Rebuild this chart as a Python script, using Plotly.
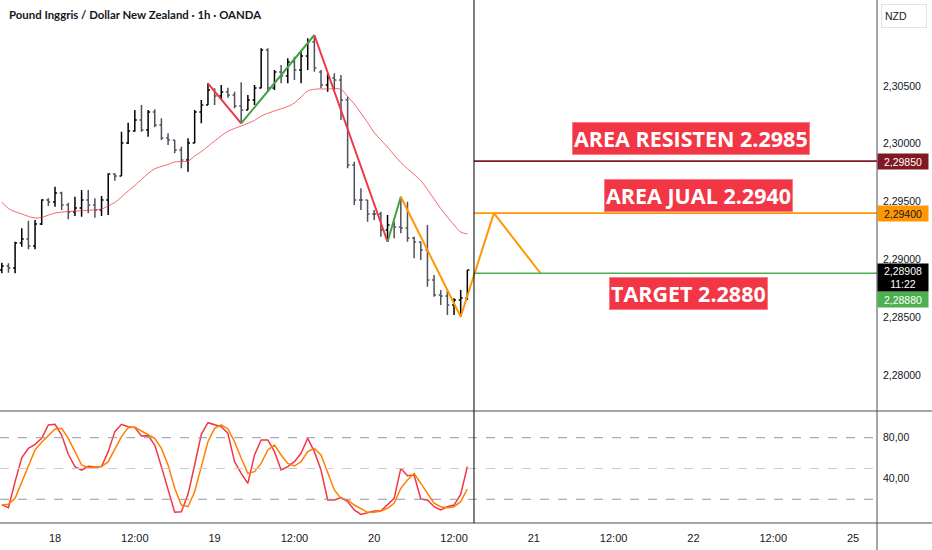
import plotly.graph_objects as go

# data (x = hours from 18 00:00, weekend gap removed)
hours = list(range(-8, 63))

opens = [2.28908, 2.28943, 2.28926, 2.29142, 2.29176, 2.29116, 2.29306, 2.29514,
         2.29497, 2.29574, 2.29471, 2.29410, 2.29445, 2.29514, 2.29471, 2.29427, 2.29514, 2.29739,
         2.29721, 2.30007, 2.30111, 2.30206, 2.30119, 2.30275, 2.30163, 2.30050, 2.30033, 2.29946,
         2.29860, 2.30007, 2.30275, 2.30336, 2.30465, 2.30414, 2.30448, 2.30422, 2.30327, 2.30292,
         2.30379, 2.30483, 2.30811, 2.30483, 2.30621, 2.30587, 2.30708, 2.30638, 2.30760, 2.30881,
         2.30621, 2.30509, 2.30569, 2.30552, 2.30379, 2.29817, 2.29514, 2.29514, 2.29393, 2.29393,
         2.29254, 2.29298, 2.29280, 2.29272, 2.29185, 2.29151, 2.29081, 2.28822, 2.28692, 2.28683,
         2.28606, 2.28649, 2.28666]
highs = [2.28971, 2.28966, 2.29153, 2.29269, 2.29335, 2.29341, 2.29520, 2.29529,
         2.29629, 2.29586, 2.29490, 2.29542, 2.29600, 2.29600, 2.29529, 2.29548, 2.29745, 2.29745,
         2.30105, 2.30183, 2.30292, 2.30336, 2.30292, 2.30298, 2.30221, 2.30091, 2.30033, 2.29975,
         2.30048, 2.30292, 2.30379, 2.30523, 2.30480, 2.30509, 2.30485, 2.30451, 2.30532, 2.30422,
         2.30509, 2.30826, 2.30826, 2.30638, 2.30682, 2.30740, 2.30753, 2.30811, 2.30913, 2.30941,
         2.30638, 2.30610, 2.30610, 2.30595, 2.30407, 2.29845, 2.29615, 2.29514, 2.29427, 2.29413,
         2.29384, 2.29326, 2.29542, 2.29499, 2.29196, 2.29153, 2.29298, 2.28865, 2.28735, 2.28735,
         2.28664, 2.28735, 2.28908]
lows = [2.28880, 2.28885, 2.28880, 2.29110, 2.29087, 2.29087, 2.29298, 2.29462,
        2.29456, 2.29427, 2.29347, 2.29375, 2.29369, 2.29399, 2.29361, 2.29375, 2.29384, 2.29681,
        2.29721, 2.29998, 2.30105, 2.30105, 2.30061, 2.30143, 2.30033, 2.29990, 2.29918, 2.29788,
        2.29759, 2.30004, 2.30177, 2.30336, 2.30336, 2.30379, 2.30399, 2.30307, 2.30177, 2.30292,
        2.30336, 2.30480, 2.30451, 2.30465, 2.30523, 2.30523, 2.30552, 2.30523, 2.30638, 2.30624,
        2.30480, 2.30451, 2.30465, 2.30206, 2.29788, 2.29471, 2.29427, 2.29326, 2.29341, 2.29196,
        2.29153, 2.29183, 2.29226, 2.29153, 2.29010, 2.28995, 2.28764, 2.28677, 2.28606, 2.28519,
        2.28519, 2.28504, 2.28649]
closes = [2.28943, 2.28926, 2.29142, 2.29176, 2.29116, 2.29306, 2.29514, 2.29497,
          2.29574, 2.29471, 2.29410, 2.29445, 2.29514, 2.29471, 2.29427, 2.29514, 2.29739, 2.29721,
          2.30007, 2.30111, 2.30206, 2.30119, 2.30275, 2.30163, 2.30050, 2.30033, 2.29946, 2.29860,
          2.30007, 2.30275, 2.30336, 2.30465, 2.30414, 2.30448, 2.30422, 2.30327, 2.30292, 2.30379,
          2.30483, 2.30811, 2.30483, 2.30621, 2.30587, 2.30708, 2.30638, 2.30760, 2.30881, 2.30656,
          2.30509, 2.30569, 2.30552, 2.30379, 2.29817, 2.29514, 2.29514, 2.29393, 2.29393, 2.29254,
          2.29298, 2.29280, 2.29272, 2.29185, 2.29151, 2.29081, 2.28822, 2.28692, 2.28683, 2.28606,
          2.28649, 2.28666, 2.28908]

ma_hours = [-8, -7, -5, -3, -2, 0, 2, 4, 6, 7, 8, 9, 10, 11, 12, 13, 14, 15, 16, 17, 18, 20,
            21, 22, 24, 26, 28, 30, 31, 33, 35, 36, 37, 38, 39, 41, 43, 44, 45, 46, 47, 48,
            50, 51, 52, 54, 55, 56, 57, 58, 59, 60, 61, 62]
ma_values = [2.29497, 2.29440, 2.29393, 2.29358, 2.29364, 2.29401, 2.29414, 2.29421, 2.29429,
             2.29436, 2.29462, 2.29492, 2.29540, 2.29592, 2.29639, 2.29691, 2.29743, 2.29784,
             2.29804, 2.29821, 2.29843, 2.29851, 2.29894, 2.29933, 2.30024, 2.30108, 2.30154,
             2.30202, 2.30240, 2.30284, 2.30323, 2.30353, 2.30405, 2.30457, 2.30472, 2.30474,
             2.30471, 2.30409, 2.30344, 2.30266, 2.30184, 2.30098, 2.29972, 2.29903, 2.29838,
             2.29734, 2.29682, 2.29605, 2.29522, 2.29439, 2.29367, 2.29298, 2.29237, 2.29220]

stoch_k = [14.8, 11.8, 37.2, 60.5, 69.6, 73.5, 79.4, 92.4,
           93.0, 82.6, 63.8, 51.8, 48.5, 52.1, 51.5, 51.8, 66.4, 85.9,
           93.0, 90.7, 89.8, 81.6, 82.0, 72.9, 51.8, 30.7, 7.3, 7.9,
           24.8, 53.4, 83.3, 94.6, 92.4, 90.7, 84.3, 56.6, 45.3, 35.5,
           63.2, 77.8, 77.8, 66.4, 48.5, 51.8, 56.6, 64.8, 79.4, 66.4,
           48.5, 19.3, 19.3, 21.6, 17.7, 9.6, 5.3, 7.3, 8.6, 8.6,
           14.4, 20.9, 50.1, 43.0, 43.6, 20.3, 19.3, 12.8, 9.6, 12.8,
           14.4, 24.8, 51.8]
stoch_d = [14.4, 15.1, 21.0, 37.2, 53.4, 68.0, 75.5, 81.6,
           88.5, 89.1, 79.4, 66.4, 53.4, 50.8, 51.1, 51.8, 56.6, 69.6,
           81.0, 89.8, 90.4, 86.5, 83.3, 79.4, 69.6, 53.4, 30.7, 14.4,
           12.8, 27.4, 51.8, 76.1, 89.1, 92.4, 88.5, 76.1, 59.9, 45.3,
           46.9, 55.0, 68.0, 72.9, 63.2, 55.0, 52.4, 56.6, 66.4, 69.6,
           63.2, 45.3, 29.1, 20.9, 19.3, 14.4, 10.5, 7.3, 7.3, 8.6,
           11.2, 16.1, 30.7, 38.8, 45.3, 35.5, 25.8, 16.1, 12.8, 11.8,
           12.8, 17.7, 30.0]

# zigzag drawing
zz_red1 = ([23, 28], [2.30523, 2.30177])
zz_green1 = ([28, 39], [2.30177, 2.30941])
zz_red2 = ([39, 50], [2.30941, 2.29153])
zz_green2 = ([50, 52], [2.29153, 2.29542])
zz_orange = ([52, 61, 66, 73], [2.29542, 2.28504, 2.29400, 2.28880])

now_hour = 63
resist_level = 2.2985
sell_level = 2.2940
target_level = 2.2888
last_price = 2.28908

price_ticks = [2.280, 2.285, 2.290, 2.295, 2.300, 2.305]
time_ticks = [0, 12, 24, 36, 48, 60, 72, 84, 96, 108, 120]
time_labels = ["18", "12:00", "19", "12:00", "20", "12:00", "21", "12:00", "22", "12:00", "25"]

W, H = 932, 550
X_RANGE = [-8.27, 123.6]
PRICE_RANGE = [2.276885, 2.312439]
STOCH_RANGE = [-3.1, 106.0]
plot_right = 877 / W
main_bottom = (H - 411) / H
stoch_bottom = (H - 523) / H

TXT = "#131722"
AXIS_FONT = dict(family="Liberation Sans", size=10.5, color=TXT)

fig = go.Figure()

fig.add_trace(go.Ohlc(
    x=hours, open=opens, high=highs, low=lows, close=closes,
    increasing=dict(line=dict(color="#000000", width=1.5)),
    decreasing=dict(line=dict(color="#4f525c", width=1.5)),
    tickwidth=0.3, xaxis="x", yaxis="y", hoverinfo="skip",
))
fig.add_trace(go.Scatter(x=ma_hours, y=ma_values, mode="lines",
                         line=dict(color="rgba(242,54,69,0.75)", width=1, shape="spline"),
                         xaxis="x", yaxis="y", hoverinfo="skip"))

for (zx, zy), col in [(zz_red1, "#f23645"), (zz_green1, "#43a047"), (zz_red2, "#f23645"),
                      (zz_green2, "#43a047"), (zz_orange, "#ff9800")]:
    fig.add_trace(go.Scatter(x=zx, y=zy, mode="lines", line=dict(color=col, width=2),
                             xaxis="x", yaxis="y", hoverinfo="skip"))

for lvl, col in [(resist_level, "#801922"), (sell_level, "#ff9800"), (target_level, "#4caf50")]:
    fig.add_trace(go.Scatter(x=[now_hour, X_RANGE[1]], y=[lvl, lvl], mode="lines",
                             line=dict(color=col, width=1.6),
                             xaxis="x", yaxis="y", hoverinfo="skip"))

fig.add_trace(go.Scatter(x=hours, y=stoch_k, mode="lines", line=dict(color="#f23645", width=1.5),
                         xaxis="x", yaxis="y2", hoverinfo="skip"))
fig.add_trace(go.Scatter(x=hours, y=stoch_d, mode="lines", line=dict(color="#ff8000", width=1.5),
                         xaxis="x", yaxis="y2", hoverinfo="skip"))

shapes = []
# stochastic bands
for lvl, col in [(80, "#9598a1"), (50, "#c9cbd1"), (20, "#9598a1")]:
    shapes.append(dict(type="line", xref="paper", yref="y2", x0=0, x1=plot_right, y0=lvl, y1=lvl,
                       line=dict(color=col, width=1, dash="dash")))
# pane separators
shapes.append(dict(type="line", xref="paper", yref="paper", x0=0, x1=1, y0=main_bottom, y1=main_bottom,
                   line=dict(color="#4a4d57", width=1)))
shapes.append(dict(type="line", xref="paper", yref="paper", x0=0, x1=1, y0=stoch_bottom, y1=stoch_bottom,
                   line=dict(color="#4a4d57", width=1)))
shapes.append(dict(type="line", xref="paper", yref="paper", x0=plot_right, x1=plot_right, y0=0, y1=1,
                   line=dict(color="#4a4d57", width=1)))
# current time line
shapes.append(dict(type="line", xref="x", yref="paper", x0=now_hour, x1=now_hour, y0=stoch_bottom, y1=1,
                   line=dict(color="#000000", width=1)))

annotations = [
    dict(text="<b>Pound Inggris / Dollar New Zealand · 1h · OANDA</b>", xref="paper", yref="paper",
         x=7 / W, y=1 - 15 / H, xanchor="left", yanchor="middle", showarrow=False,
         font=dict(family="Lato", size=11.4, color=TXT)),
    dict(text="NZD", xref="paper", yref="paper", x=881 / W, y=1 - 4 / H, xanchor="left", yanchor="top",
         showarrow=False, width=38, height=16, align="left", borderpad=3, bgcolor="#ffffff",
         bordercolor="#e0e3eb", borderwidth=1, font=dict(family="Liberation Sans", size=10.5, color=TXT)),
]

for txt, hx, py in [("AREA RESISTEN 2.2985", 95.7, 2.30048),
                    ("AREA JUAL 2.2940", 96.7, 2.29553),
                    ("TARGET 2.2880", 95.2, 2.28701)]:
    annotations.append(dict(text="<b>" + txt + "</b>", x=hx, y=py, xref="x", yref="y", showarrow=False,
                            bgcolor="#f23645", bordercolor="#f77c86", borderwidth=1, borderpad=1,
                            font=dict(family="Open Sans", size=21.5, color="#ffffff")))


def fmt(v):
    return f"{v:.5f}".replace(".", ",")


for lvl, bg, fg, shift in [(resist_level, "#801922", "#ffffff", 0),
                           (sell_level, "#ff9800", TXT, 0),
                           (target_level, "#4caf50", "#ffffff", -26)]:
    annotations.append(dict(text=fmt(lvl), xref="paper", yref="y", x=plot_right, y=lvl, xanchor="left",
                            yanchor="middle", yshift=shift, showarrow=False, width=46, height=11,
                            borderpad=2, bgcolor=bg, font=dict(AXIS_FONT, color=fg)))
annotations.append(dict(text=fmt(last_price) + "<br>11:22", xref="paper", yref="y", x=plot_right,
                        y=last_price, xanchor="left", yanchor="top", yshift=7, showarrow=False,
                        width=46, height=23, borderpad=2, bgcolor="#000000",
                        font=dict(AXIS_FONT, color="#ffffff")))

fig.update_layout(
    width=W, height=H, margin=dict(l=0, r=0, t=0, b=0),
    paper_bgcolor="#ffffff", plot_bgcolor="#ffffff", showlegend=False, hovermode=False,
    xaxis=dict(domain=[0, plot_right], range=X_RANGE, anchor="y2", showgrid=False, zeroline=False,
               showline=False, ticks="", tickvals=time_ticks, ticktext=time_labels,
               tickfont=dict(family="Liberation Sans", size=11, color=TXT), ticklabelstandoff=7,
               rangeslider=dict(visible=False), automargin=False),
    yaxis=dict(domain=[main_bottom, 1], range=PRICE_RANGE, side="right", anchor="x", showgrid=False,
               zeroline=False, showline=False, ticks="", tickvals=price_ticks,
               ticktext=[fmt(v) for v in price_ticks], tickfont=AXIS_FONT, ticklabelstandoff=5,
               automargin=False),
    yaxis2=dict(domain=[stoch_bottom, main_bottom], range=STOCH_RANGE, side="right", anchor="x",
                showgrid=False, zeroline=False, showline=False, ticks="", tickvals=[40, 80],
                ticktext=["40,00", "80,00"], tickfont=AXIS_FONT, ticklabelstandoff=5,
                automargin=False),
    shapes=shapes, annotations=annotations,
)

# page body has a default 8px margin; remove it so the figure fills the window
fig.write_html("out.html", config={"displayModeBar": False},
               post_script="document.body.style.margin='0';")
